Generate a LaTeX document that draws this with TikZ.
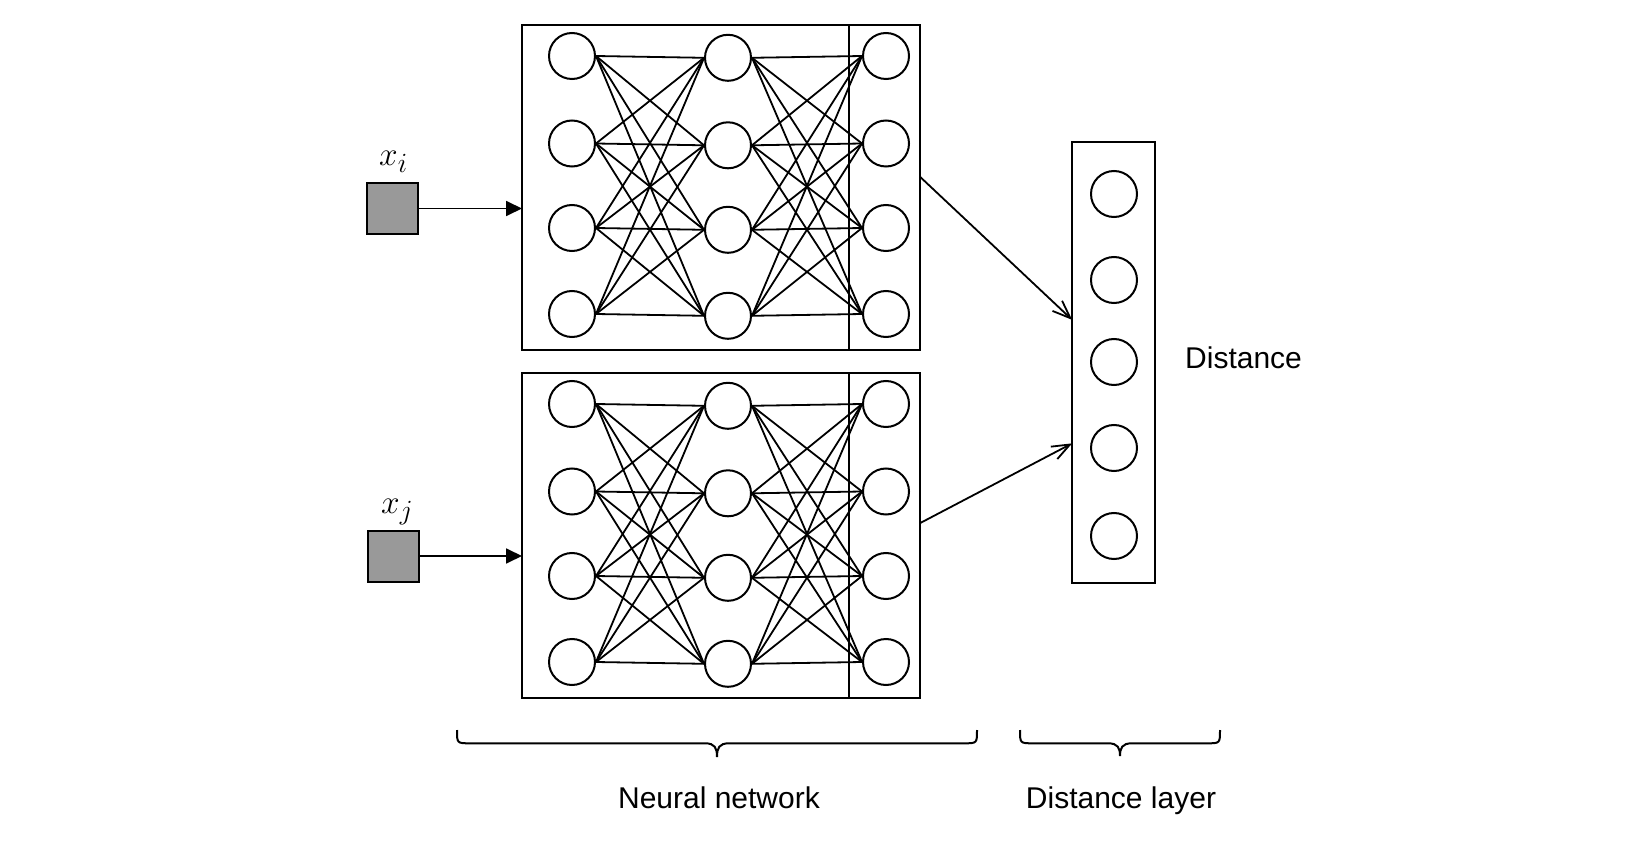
\documentclass[tikz,border=0pt]{standalone}
\usepackage{fontspec}
\setsansfont{Liberation Sans}
\usetikzlibrary{arrows.meta,calc}
\definecolor{boxgray}{HTML}{999999}
\newcommand{\biglbl}[1]{\scalebox{1.34}{#1}}
\begin{document}
\begin{tikzpicture}[x=1pt,y=-1pt,
  neuron/.style={circle,draw,line width=2pt,minimum size=46pt,inner sep=0pt,fill=white},
  netbox/.style={draw,line width=2pt,minimum width=398pt,minimum height=325pt,inner sep=0pt,outer sep=0pt},
  outbox/.style={draw,line width=2pt,minimum width=71pt,minimum height=325pt,inner sep=0pt,outer sep=0pt},
  distbox/.style={draw,line width=2pt,minimum width=83pt,minimum height=441pt,inner sep=0pt,outer sep=0pt},
  inbox/.style={draw,line width=2pt,fill=boxgray,minimum size=51pt,inner sep=0pt,outer sep=0pt},
  wire/.style={line width=1.8pt},
  inarrow/.style={line width=1.8pt,-{Triangle[length=16pt,width=15pt]}},
  outarrow/.style={line width=1.8pt,-{Straight Barb[length=18pt,width=14pt,line width=1.8pt]}},
  brace/.style={line width=2pt},
  lbl/.style={inner sep=0pt,font=\fontsize{30}{36}\selectfont\sffamily},
  mlbl/.style={inner sep=0pt,font=\fontsize{24.88}{30}\selectfont},
]
\useasboundingbox (0,0) rectangle (1650,842);

% input squares
\node[inbox] (sq1) at (392,208.5) {};
\node[inbox] (sq2) at (393.5,556) {};
\node[mlbl,anchor=base west] (xi) at (379,166) {\biglbl{$x_i$}};
\node[mlbl,anchor=base west] (xj) at (381,513) {\biglbl{$x_j$}};

% network boxes
\node[netbox] (net1) at (721,187.5) {};
\node[outbox] (out1) at (884.5,187.5) {};
\node[netbox] (net2) at (721,535.5) {};
\node[outbox] (out2) at (884.5,535.5) {};

% neurons
\foreach \n/\dy in {1/0,2/348}{
  \foreach \i/\y in {1/56,2/143.5,3/228,4/314}{
    \node[neuron] (a\n\i) at (572,\y+\dy) {};
    \node[neuron] (b\n\i) at (728,\y+\dy+1.8) {};
    \node[neuron] (c\n\i) at (886,\y+\dy) {};
  }
  \foreach \i in {1,...,4}{
    \foreach \j in {1,...,4}{
      \draw[wire] (a\n\i.east) -- (b\n\j.west);
      \draw[wire] (b\n\i.east) -- (c\n\j.west);
    }
  }
}

% distance layer
\node[distbox] (dist) at (1113.7,362.2) {};
\foreach \i/\y in {1/194,2/280,3/362,4/448,5/536}{
  \node[neuron] (d\i) at (1114,\y) {};
}
\node[lbl,anchor=base west] (dlbl) at (1185,369) {Distance};

% arrows
\draw[inarrow] (sq1.east) -- (sq1.east -| net1.west);
\draw[inarrow] (sq2.east) -- (sq2.east -| net2.west);
\draw[outarrow] ($(out1.north east)!0.467!(out1.south east)$) -- ($(dist.north west)!0.404!(dist.south west)$);
\draw[outarrow] ($(out2.north east)!0.462!(out2.south east)$) -- ($(dist.north west)!0.684!(dist.south west)$);

% braces
\coordinate (b1l) at (457,730);
\coordinate (b1r) at (977,730);
\coordinate (b1t) at (717,757);
\draw[brace] (b1l) .. controls ($(b1l)+(0,13.3)$) .. ($(b1l)+(13,13.3)$)
  -- ($(b1t)+(-12,-13.7)$) .. controls ($(b1t)+(-2,-13.7)$) and ($(b1t)+(0,-9)$) .. (b1t)
  .. controls ($(b1t)+(0,-9)$) and ($(b1t)+(2,-13.7)$) .. ($(b1t)+(12,-13.7)$)
  -- ($(b1r)+(-13,13.3)$) .. controls ($(b1r)+(0,13.3)$) .. (b1r);
\coordinate (b2l) at (1020,730);
\coordinate (b2r) at (1220,730);
\coordinate (b2t) at (1120,756);
\draw[brace] (b2l) .. controls ($(b2l)+(0,13.3)$) .. ($(b2l)+(13,13.3)$)
  -- ($(b2t)+(-12,-12.7)$) .. controls ($(b2t)+(-2,-12.7)$) and ($(b2t)+(0,-8)$) .. (b2t)
  .. controls ($(b2t)+(0,-8)$) and ($(b2t)+(2,-12.7)$) .. ($(b2t)+(12,-12.7)$)
  -- ($(b2r)+(-13,13.3)$) .. controls ($(b2r)+(0,13.3)$) .. (b2r);

\node[lbl,anchor=base] (nnlbl) at (719,808) {Neural network};
\node[lbl,anchor=base] (dllbl) at (1121,808) {Distance layer};
\end{tikzpicture}
\end{document}
